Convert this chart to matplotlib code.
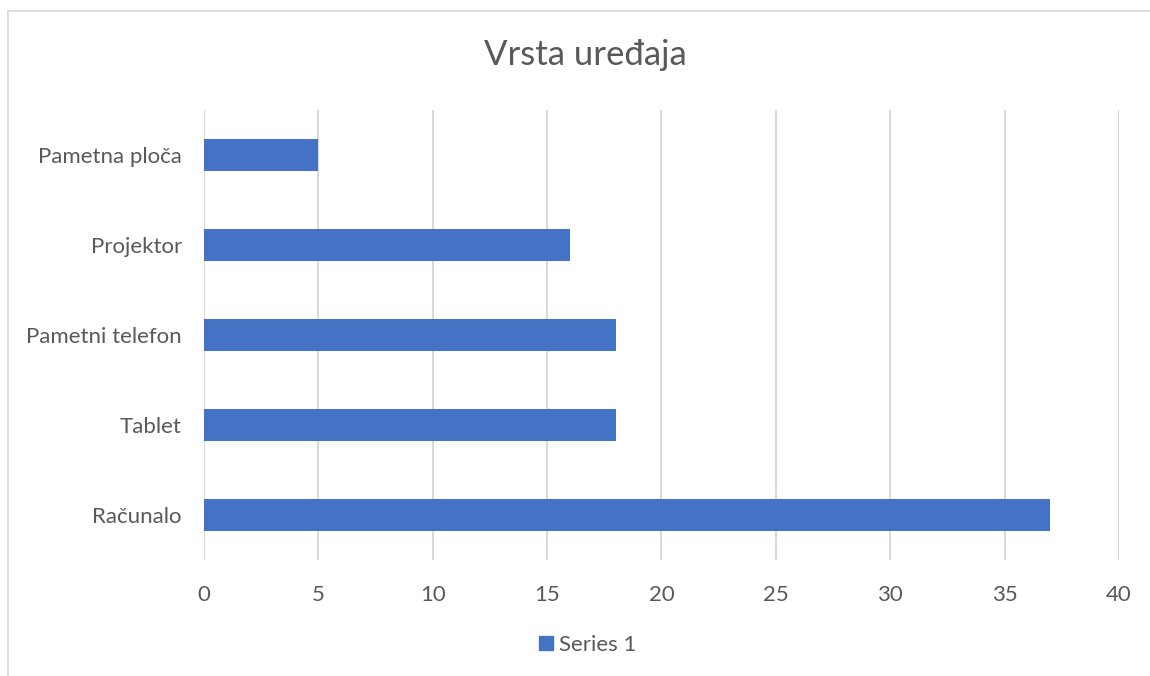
import matplotlib.pyplot as plt
from matplotlib.lines import Line2D
from matplotlib.patches import Patch

### data
categories = ['Računalo', 'Tablet', 'Pametni telefon', 'Projektor', 'Pametna ploča']
values = [37, 18, 18, 16, 5]
xticks = [0, 5, 10, 15, 20, 25, 30, 35, 40]

barcol = '#4472C4'
txtcol = '#595959'
gridcol = '#D9D9D9'
fnt = 'Lato'

plt.rcParams['font.family'] = [fnt, 'DejaVu Sans']

fig = plt.figure(figsize=(11.5, 6.76), dpi=100)
ax = fig.add_axes([204/1150, 116/676, (1119-204)/1150, 450/676])

ax.barh(range(len(categories)), values, height=0.355, color=barcol, zorder=3, label='Series 1')

ax.set_xlim(0, 40)
ax.set_ylim(-0.5, len(categories) - 0.5)
ax.set_xticks(xticks)
ax.set_yticks(range(len(categories)))
ax.set_yticklabels(categories)
ax.xaxis.grid(True, color=gridcol, lw=1.5, zorder=0)
ax.tick_params(length=0, labelsize=16, labelcolor=txtcol)
ax.tick_params(axis='y', pad=16)
ax.tick_params(axis='x', pad=18)
for s in ax.spines.values():
    s.set_visible(False)

fig.text(585/1150, 1 - 55/676, 'Vrsta uređaja', ha='center', va='center', fontsize=25, color=txtcol)

# legend below the plot
fig.legend(handles=[Patch(color=barcol, label='Series 1')], loc='center', bbox_to_anchor=(588/1150, 1 - 645/676),
           frameon=False, fontsize=16, labelcolor=txtcol, handlelength=0.6, handleheight=0.6, handletextpad=0.3)

# chart border (left and top edges visible in the crop)
fig.add_artist(Line2D([8/1150, 8/1150], [0, 1 - 11/676], transform=fig.transFigure, color=gridcol, lw=1.2))
fig.add_artist(Line2D([8/1150, 1], [1 - 11/676, 1 - 11/676], transform=fig.transFigure, color=gridcol, lw=1.2))

plt.savefig('out.png', dpi=100)
